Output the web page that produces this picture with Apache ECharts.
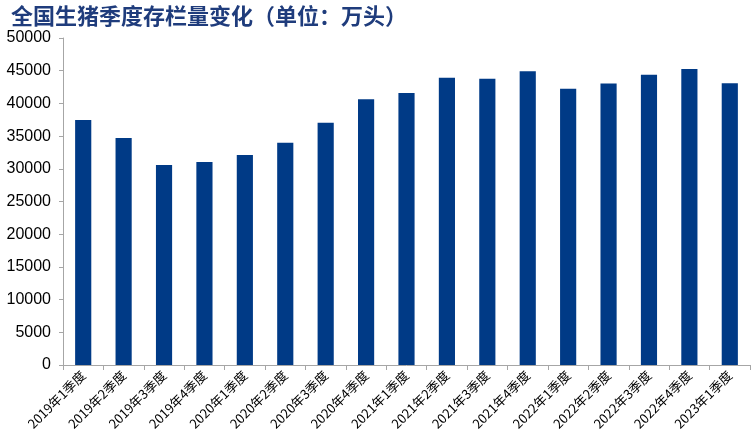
<!DOCTYPE html>
<html><head><meta charset="utf-8">
<script src="https://cdn.jsdelivr.net/npm/echarts@6/dist/echarts.min.js"></script>
<style>html,body{margin:0;padding:0;background:#fff}#c{width:754px;height:433px}</style>
</head><body><div id="c"></div>
<script>
const categories = ["2019年1季度","2019年2季度","2019年3季度","2019年4季度","2020年1季度","2020年2季度","2020年3季度","2020年4季度","2021年1季度","2021年2季度","2021年3季度","2021年4季度","2022年1季度","2022年2季度","2022年3季度","2022年4季度","2023年1季度"];
const values = [37460, 34710, 30590, 31040, 32120, 33996, 37039, 40650, 41595, 43911, 43764, 44922, 42253, 43057, 44394, 45256, 43094];
const titleText = "全国生猪季度存栏量变化（单位：万头）";

const chart = echarts.init(document.getElementById('c'));
chart.setOption({
  animation: false,
  title: {
    text: titleText, left: 6, top: 0,
    textStyle: {fontFamily: "Noto Sans CJK SC", fontWeight: "bold", fontSize: 22, color: "#1F3C7C"}
  },
  grid: {left: 63, right: 4, top: 38, bottom: 68},
  xAxis: {
    type: 'category', data: categories,
    axisLine: {lineStyle: {color: '#A6A6A6'}},
    axisTick: {show: true, alignWithLabel: false, lineStyle: {color: '#A6A6A6'}},
    axisLabel: {rotate: 45, fontSize: 13, color: '#000', fontFamily: 'Noto Sans CJK SC', margin: 8, interval: 0}
  },
  yAxis: {
    type: 'value', min: 0, max: 50000, interval: 5000,
    axisLine: {show: true, lineStyle: {color: '#A6A6A6'}},
    axisTick: {show: true, length: 4, lineStyle: {color: '#A6A6A6'}},
    splitLine: {show: false},
    axisLabel: {fontSize: 16, color: '#000', fontFamily: 'Liberation Sans', margin: 12, formatter: function (v) { return String(v); }}
  },
  series: [{
    type: 'bar', data: values, barWidth: '40%',
    itemStyle: {color: '#003A86'}
  }]
});
</script></body></html>
